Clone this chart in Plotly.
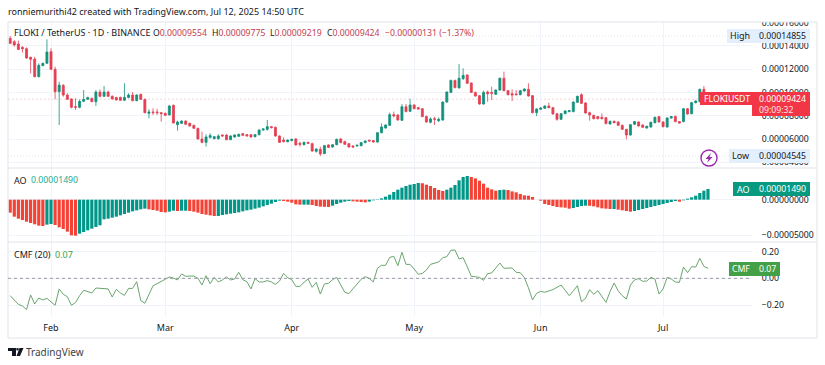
import pandas as pd
import plotly.graph_objects as go

# price values in units of 1e-7
OPEN=[1465,1436,1416,1387,1376,1302,1287,1136,1230,1250,1350,1199,1007,1061,978,944,878,873,924,941,950,921,1004,967,1004,967,956,958,933,958,978,930,984,941,821,833,833,827,821,807,890,724,735,755,735,718,692,601,572,615,604,604,635,635,595,618,624,647,638,638,621,638,678,684,707,701,627,592,578,587,601,564,552,572,561,495,512,475,550,532,552,601,578,561,541,541,544,570,590,587,575,655,695,718,810,807,761,878,838,893,870,861,795,744,775,758,764,918,1001,1104,1039,1119,1150,1081,1001,973,901,1004,1001,984,1021,1122,1016,990,987,981,1013,1027,973,827,856,864,884,870,818,770,818,836,836,916,981,910,827,804,793,787,784,730,753,747,718,684,635,727,747,721,695,704,741,793,747,704,781,795,750,750,861,818,913,921,1027,955.4]
HIGH=[1485,1450,1445,1399,1387,1307,1307,1250,1256,1456,1379,1222,1093,1073,993,950,950,941,1021,964,956,1021,1027,1056,1016,976,964,964,1079,993,1004,984,990,947,856,864,861,833,827,893,896,758,761,761,741,724,698,664,641,650,627,641,641,641,632,641,647,652,644,644,644,684,692,764,713,707,632,615,598,604,607,578,578,578,570,521,535,550,555,558,604,610,587,567,547,552,575,590,595,592,661,735,727,827,836,813,901,901,947,898,876,867,801,787,793,787,924,1010,1110,1110,1244,1207,1156,1087,1007,978,1016,1016,1050,1027,1127,1179,1021,1027,1021,1021,1036,1079,978,864,873,890,913,876,824,824,847,850,924,973,993,916,836,810,798,821,790,758,758,753,724,687,730,755,753,727,715,750,793,798,753,787,798,801,755,867,867,918,933,1033,1056,977.5]
LOW=[1416,1393,1365,1342,1290,1164,1130,1130,1227,1250,1193,941,721,964,936,864,850,864,918,936,918,884,958,964,961,941,930,927,927,950,924,924,936,821,778,807,807,750,798,804,735,672,730,721,707,687,595,564,535,604,598,595,621,590,592,612,618,627,621,612,615,632,672,672,693,621,567,572,572,581,544,535,547,558,492,484,455,472,524,527,547,564,550,527,527,535,538,564,578,570,570,650,690,713,787,758,758,830,833,856,853,787,741,735,721,747,758,913,996,1036,1036,1107,1073,996,964,896,896,921,936,979,1016,1010,976,927,976,976,1007,964,821,798,850,858,864,810,758,764,813,830,830,910,901,818,758,770,770,770,727,724,735,713,678,598,630,721,707,695,690,698,735,741,701,698,775,744,733,744,810,813,906,916,950,921.9]
CLOSE=[1422,1408,1370,1376,1296,1285,1136,1233,1250,1347,1199,1007,1064,978,941,873,873,924,941,956,921,1004,967,1004,967,944,936,933,958,978,930,978,941,827,833,827,827,819,804,884,738,747,755,727,713,693,601,572,618,630,621,627,627,595,627,635,641,632,627,618,638,678,687,707,698,627,572,578,592,598,550,555,572,564,498,515,473,544,529,552,598,570,555,532,532,547,570,584,584,575,655,704,721,810,799,764,878,836,893,861,858,793,747,773,770,770,918,1004,1104,1042,1122,1147,1079,1001,970,901,1001,990,993,1021,1122,1016,981,979,981,1016,1030,970,827,858,867,884,870,816,770,818,842,844,918,967,907,824,807,775,775,775,733,753,741,718,684,635,724,750,713,701,710,744,787,747,707,781,793,750,738,861,816,913,927,1027,956,942.4]
# Awesome Oscillator, units of 1e-8
AO=[-1822,-2383,-2664,-2851,-3084,-3271,-3458,-3645,-3692,-3505,-3411,-3551,-3879,-4112,-4486,-5000,-5047,-4766,-4533,-4299,-4066,-3832,-3598,-2757,-2664,-2523,-2383,-2196,-2009,-1822,-1636,-1495,-1355,-1262,-1355,-1449,-1542,-1729,-1776,-1682,-1542,-1589,-1542,-1542,-1589,-1682,-1822,-2009,-2103,-2196,-2290,-2290,-2150,-2056,-1963,-1869,-1776,-1636,-1495,-1402,-1262,-1122,-935,-748,-561,-327,-140,-187,-280,-421,-654,-701,-701,-701,-748,-888,-981,-1000,-1020,-841,-607,-421,-280,-187,-234,-280,-327,-374,-280,-93,47,187,421,701,1075,1402,1682,1916,2103,2196,2336,2300,2103,1916,1636,1355,1215,1402,1682,2056,2710,3178,3318,3178,2991,2664,2243,1682,1449,1262,1355,1402,1355,1168,1028,794,607,561,374,0,-140,-607,-748,-888,-1028,-1075,-1122,-1262,-1168,-1028,-888,-841,-860,-935,-1075,-1215,-1262,-1308,-1308,-1402,-1495,-1589,-1682,-1589,-1449,-1308,-1168,-1028,-888,-748,-607,-467,-327,-187,-280,-93,140,327,561,935,1262,1495]
# Chaikin Money Flow, thousandths
CMF=[-129,-161,-194,-206,-233,-124,-191,-147,-161,-149,-174,-201,-79,-119,-137,-201,-181,-129,-89,-99,-109,-72,-75,-77,-79,-139,-82,-109,-127,-75,-75,-25,-166,-186,-124,-55,-40,-22,-10,10,2,-12,32,15,17,17,0,-50,20,-40,7,-27,-12,10,-12,-5,45,-10,-25,-79,-2,-27,-27,-17,-27,-45,-20,37,5,-10,-60,-60,-30,-5,-67,-30,-117,-42,-37,-10,7,-45,-104,-114,-77,-37,-7,12,0,-27,75,97,97,156,164,94,194,104,104,70,30,37,62,104,112,122,154,161,209,211,144,154,87,15,12,7,-15,35,40,77,114,75,75,77,45,42,5,-70,-161,-112,-97,-104,-94,-84,-67,-50,-89,-129,-94,-55,-174,-149,-84,-119,-92,-137,-179,-99,-35,-94,-129,-154,-50,-12,-2,-22,-20,7,-5,-117,-79,7,-5,-27,-30,84,42,87,84,149,89,75]
PRICE_TICKS=[0.00016,0.00014,0.00012,0.00010,0.00008,0.00006,0.00004]
AO_TICKS=[0,-0.00005]
CMF_TICKS=[0.2,0,-0.2]
MONTHS=["2025-02-01","2025-03-01","2025-04-01","2025-05-01","2025-06-01","2025-07-01"]
MONTH_LABELS=["Feb","Mar","Apr","May","Jun","Jul"]
HIGH_VALUE=0.00014855; LOW_VALUE=0.00004545

n=len(CLOSE)
assert all(len(a)==n for a in (OPEN,HIGH,LOW,AO,CMF)), [len(a) for a in (OPEN,HIGH,LOW,CLOSE,AO,CMF)]
dates=pd.date_range("2025-01-22",periods=n,freq="D")
sc=lambda a,k:[v*k for v in a]

W,H=825,365
FONT="Noto Sans"
UP,DOWN="#13917b","#e34054"
TXT="#131722"
GRID="#f0f3fa"
BORDER="#e0e3eb"
px=lambda v:v/W
py=lambda v:1-v/H

PL,PR=8,752
colors=["#F44336"]+["#009688" if AO[i]>=AO[i-1] else "#F44336" for i in range(1,n)]

fig=go.Figure()
fig.add_trace(go.Candlestick(x=dates,open=sc(OPEN,1e-7),high=sc(HIGH,1e-7),low=sc(LOW,1e-7),close=sc(CLOSE,1e-7),
    increasing=dict(line=dict(color=UP,width=0.8),fillcolor=UP),decreasing=dict(line=dict(color=DOWN,width=0.8),fillcolor=DOWN),
    whiskerwidth=0,xaxis="x",yaxis="y",hoverinfo="skip",showlegend=False))
fig.add_trace(go.Bar(x=dates,y=sc(AO,1e-8),marker=dict(color=colors,line=dict(width=0)),xaxis="x2",yaxis="y2",hoverinfo="skip",showlegend=False))
fig.add_trace(go.Scatter(x=dates,y=sc(CMF,1e-3),mode="lines",line=dict(color="#6aa56e",width=1),xaxis="x3",yaxis="y3",hoverinfo="skip",showlegend=False))

xcommon=dict(type="date",range=["2025-01-21 11:00","2025-07-22 19:00"],domain=[px(PL),px(PR)],rangeslider=dict(visible=False),automargin=False,
    tickvals=MONTHS,ticktext=MONTH_LABELS,showgrid=True,gridcolor=GRID,gridwidth=1,zeroline=False,showline=False,ticks="outside",ticklen=3,tickcolor="rgba(0,0,0,0)")
ycommon=dict(side="right",automargin=False,showgrid=True,gridcolor=GRID,gridwidth=1,zeroline=False,showline=False,ticks="outside",ticklen=7,tickcolor="rgba(0,0,0,0)",
    tickfont=dict(family=FONT,size=8.7,color=TXT))
fig.update_layout(width=W,height=H,margin=dict(l=0,r=0,t=0,b=0),paper_bgcolor="white",plot_bgcolor="white",showlegend=False,bargap=0.22,
    xaxis=dict(xcommon,anchor="y",showticklabels=False),
    xaxis2=dict(xcommon,anchor="y2",matches="x",showticklabels=False),
    xaxis3=dict(xcommon,anchor="y3",matches="x",showticklabels=True,tickfont=dict(family=FONT,size=9,color=TXT)),
    yaxis=dict(ycommon,anchor="x",domain=[py(168),py(22)],range=[3.52e-5,16.05e-5],tickvals=PRICE_TICKS,tickformat=".8f"),
    yaxis2=dict(ycommon,anchor="x2",domain=[py(242),py(168)],range=[-5.935e-5,4.44e-5],tickvals=AO_TICKS,tickformat=".8f"),
    yaxis3=dict(ycommon,anchor="x3",domain=[py(316),py(242)],range=[-0.2807,0.2708],tickvals=CMF_TICKS,tickformat=".2f"),
)

shapes=[]
def line(x0,y0,x1,y1,color=BORDER,w=1,dash="solid"):
    shapes.append(dict(type="line",xref="paper",yref="paper",x0=px(x0),x1=px(x1),y0=py(y0),y1=py(y1),line=dict(color=color,width=w,dash=dash),layer="above"))
def box(x0,y0,x1,y1,color):
    shapes.append(dict(type="rect",xref="paper",yref="paper",x0=px(x0),x1=px(x1),y0=py(y0),y1=py(y1),fillcolor=color,line=dict(width=0),layer="above"))
# masks that clip the tick labels at the pane edges, then the pane frame
box(752,0,825,22,"white")
box(752,168,825,176,"white")
for y in (22,168,242,338):
    line(8,y,817,y)
line(8,22,8,338); line(817,22,817,338)
# reference levels drawn in data coordinates
def level(v,yref,color,dash):
    shapes.append(dict(type="line",xref="paper",yref=yref,x0=px(PL),x1=px(PR),y0=v,y1=v,line=dict(color=color,width=1,dash=dash),layer="below"))
level(CLOSE[-1]*1e-7,"y","#f7d3d7","2px,2px")
level(HIGH_VALUE,"y","#e3e5ea","1px,2px")
level(LOW_VALUE,"y","#e3e5ea","1px,2px")
shapes.append(dict(type="line",xref="paper",yref="y3",x0=px(PL),x1=px(PR),y0=0,y1=0,line=dict(color="#9a9ca5",width=1,dash="3px,3px"),layer="above"))
# value tags
box(727,29,810,43,"#e3effd")
box(729,149,810,163,"#e3effd")
box(700,92,752,105,"#F23645")
box(752,92,810,116,"#F23645")
box(733,182,810,196,"#089981")
box(729,262,780,276,"#43A047")
# flash icon
shapes.append(dict(type="circle",xref="paper",yref="paper",x0=px(701),x1=px(717),y0=py(150),y1=py(166),line=dict(color="#9C27B0",width=1.4),fillcolor="white",layer="above"))
def path(points,color):
    d="M"+" L".join(f"{px(a)},{py(b)}" for a,b in points)+" Z"
    shapes.append(dict(type="path",xref="paper",yref="paper",path=d,fillcolor=color,line=dict(width=0),layer="above"))
path([(711,153),(705.5,159),(708.5,159),(707,163),(712.5,157),(709.5,157)],"#9C27B0")
# TradingView logo
path([(8,348),(16,348),(16,356),(12,356),(12,351),(8,351)],"#131722")
path([(19.5,348),(23.5,348),(20,356),(16.5,356)],"#131722")
shapes.append(dict(type="circle",xref="paper",yref="paper",x0=px(16.2),x1=px(18.8),y0=py(348),y1=py(350.6),fillcolor="#131722",line=dict(width=0),layer="above"))
fig.update_layout(shapes=shapes)

def text(x,y,s,size=9,color=TXT,anchor="left"):
    fig.add_annotation(xref="paper",yref="paper",x=px(x),y=py(y),text=s,showarrow=False,xanchor=anchor,yanchor="middle",
        font=dict(family=FONT,size=size,color=color),borderpad=0,borderwidth=0)
D="#c2414f"
text(8,11.5,"ronniemurithi42 created with TradingView.com, Jul 12, 2025 14:50 UTC",9)
text(14,32.5,"FLOKI / TetherUS · 1D · BINANCE",9)
for x,a,b in [(153,"O","0.00009554"),(212,"H","0.00009775"),(270,"L","0.00009219"),(327,"C","0.00009424")]:
    text(x,32.5,f"{a}<span style='color:{D}'>{b}</span>",8.7)
text(385,32.5,f"<span style='color:{D}'>−0.00000131 (−1.37%)</span>",8.7)
text(730,35.5,"High",9); text(759,36,"0.00014855",8.7)
text(732,155.5,"Low",9); text(759,156,"0.00004545",8.7)
text(704,99,"FLOKIUSDT",8.7,"white")
text(759,99,"0.00009424",8.7,"white")
text(759,109.5,"09:09:32",8.7,"#fde3e5")
text(14,180,"AO",9); text(31,180,"0.00001490",8.7,"#22ab94")
text(737,189,"AO",9,"white"); text(759,189,"0.00001490",8.7,"white")
text(14,254,"CMF (20)",9); text(55,254,"0.07",9,"#43A047")
text(732,269,"CMF",8.7,"white"); text(759,269,"0.07",8.7,"white")
text(26,352,"TradingView",10,"#3b3f4a")

fig.write_html("out.html",config=dict(displayModeBar=False,staticPlot=True),post_script="document.body.style.margin='0';document.body.style.overflow='hidden'")
